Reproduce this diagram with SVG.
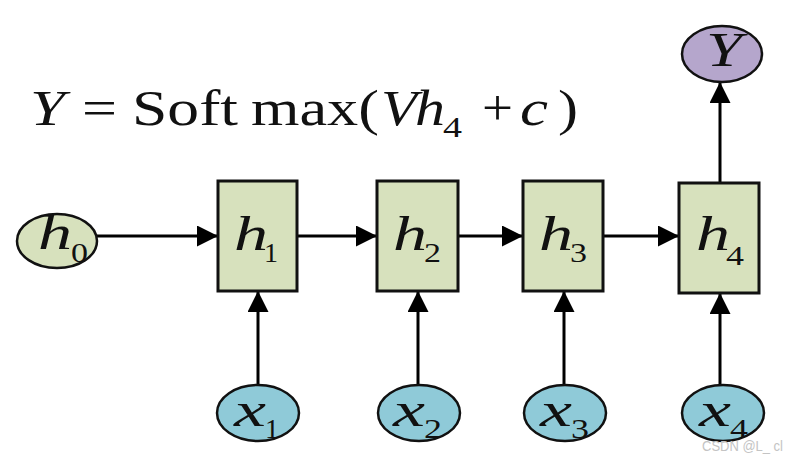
<svg xmlns="http://www.w3.org/2000/svg" width="788" height="458" viewBox="0 0 788 458">
<defs>
<marker id="arr" viewBox="0 0 10 10" refX="10" refY="5" markerWidth="9" markerHeight="7" markerUnits="strokeWidth" orient="auto">
<path d="M0,0 L10,5 L0,10 Z" fill="#000"/>
</marker>
</defs>
<style>
.box{fill:#d7e1bd;stroke:#111;stroke-width:3}
.hnode{fill:#d7e1bd;stroke:#111;stroke-width:2.5}
.xnode{fill:#8fcad8;stroke:#111;stroke-width:2.5}
.ynode{fill:#b5a6cc;stroke:#111;stroke-width:2.5}
.v{font-family:"Liberation Serif",serif;font-style:italic;font-size:48px;fill:#111}
.s{font-family:"Liberation Serif",serif;font-size:28px;fill:#111}
.t{font-family:"Liberation Serif",serif;font-size:50px;fill:#111}
.ti{font-family:"Liberation Serif",serif;font-size:50px;font-style:italic;fill:#111}
.ts{font-family:"Liberation Serif",serif;font-size:30px;fill:#111}
.c{stroke:#000;stroke-width:3;fill:none;marker-end:url(#arr)}
</style>
<rect width="788" height="458" fill="#fff"/>
<g id="title">
<text class="ti" x="30" y="125" textLength="35" lengthAdjust="spacingAndGlyphs">Y</text>
<text class="t" x="82" y="125" textLength="35" lengthAdjust="spacingAndGlyphs">=</text>
<text class="t" x="132" y="125" textLength="106" lengthAdjust="spacingAndGlyphs">Soft</text>
<text class="t" x="251" y="125" textLength="128" lengthAdjust="spacingAndGlyphs">max(</text>
<text class="ti" x="381" y="125" textLength="36" lengthAdjust="spacingAndGlyphs">V</text>
<text class="ti" x="415" y="125" textLength="30" lengthAdjust="spacingAndGlyphs">h</text>
<text class="ts" x="443" y="137" textLength="19" lengthAdjust="spacingAndGlyphs">4</text>
<text class="t" x="482" y="125" textLength="31" lengthAdjust="spacingAndGlyphs">+</text>
<text class="ti" x="520" y="125" textLength="28" lengthAdjust="spacingAndGlyphs">c</text>
<text class="t" x="558" y="125" textLength="20" lengthAdjust="spacingAndGlyphs">)</text>
</g>
<g id="connectors">
<line class="c" x1="97" y1="236" x2="218" y2="236"/>
<line class="c" x1="297" y1="236" x2="377" y2="236"/>
<line class="c" x1="458" y1="236" x2="523" y2="236"/>
<line class="c" x1="603" y1="236" x2="679" y2="236"/>
<line class="c" x1="258" y1="385" x2="258" y2="291"/>
<line class="c" x1="418" y1="385" x2="418" y2="291"/>
<line class="c" x1="564" y1="385" x2="564" y2="291"/>
<line class="c" x1="720" y1="385" x2="720" y2="293"/>
<line class="c" x1="720" y1="183" x2="720" y2="82"/>
</g>
<g id="h0">
<ellipse class="hnode" cx="57" cy="241" rx="40" ry="27"/>
<text class="v" x="38" y="249" textLength="34" lengthAdjust="spacingAndGlyphs">h</text><text class="s" x="71" y="262" textLength="17" lengthAdjust="spacingAndGlyphs">0</text>
</g>
<g id="h1">
<rect class="box" x="218" y="181" width="79" height="110"/>
<text class="v" x="234" y="250" textLength="34" lengthAdjust="spacingAndGlyphs">h</text><text class="s" x="264" y="262" textLength="14" lengthAdjust="spacingAndGlyphs">1</text>
</g>
<g id="h2">
<rect class="box" x="377" y="181" width="81" height="110"/>
<text class="v" x="393" y="250" textLength="34" lengthAdjust="spacingAndGlyphs">h</text><text class="s" x="424" y="262" textLength="17" lengthAdjust="spacingAndGlyphs">2</text>
</g>
<g id="h3">
<rect class="box" x="523" y="181" width="80" height="110"/>
<text class="v" x="539" y="250" textLength="34" lengthAdjust="spacingAndGlyphs">h</text><text class="s" x="570" y="262" textLength="17" lengthAdjust="spacingAndGlyphs">3</text>
</g>
<g id="h4">
<rect class="box" x="679" y="183" width="80" height="110"/>
<text class="v" x="696" y="250" textLength="34" lengthAdjust="spacingAndGlyphs">h</text><text class="s" x="726" y="265" textLength="18" lengthAdjust="spacingAndGlyphs">4</text>
</g>
<g id="Y">
<ellipse class="ynode" cx="722" cy="54" rx="40" ry="28"/>
<text class="v" x="706" y="66" textLength="36" lengthAdjust="spacingAndGlyphs">Y</text>
</g>
<g id="x1">
<ellipse class="xnode" cx="258" cy="413" rx="41" ry="28"/>
<text class="v" x="234" y="426" textLength="32" lengthAdjust="spacingAndGlyphs">x</text><text class="s" x="265" y="438" textLength="14" lengthAdjust="spacingAndGlyphs">1</text>
</g>
<g id="x2">
<ellipse class="xnode" cx="419" cy="413" rx="41" ry="28"/>
<text class="v" x="393" y="426" textLength="32" lengthAdjust="spacingAndGlyphs">x</text><text class="s" x="424" y="438" textLength="18" lengthAdjust="spacingAndGlyphs">2</text>
</g>
<g id="x3">
<ellipse class="xnode" cx="565" cy="413" rx="41" ry="28"/>
<text class="v" x="540" y="426" textLength="32" lengthAdjust="spacingAndGlyphs">x</text><text class="s" x="571" y="438" textLength="18" lengthAdjust="spacingAndGlyphs">3</text>
</g>
<g id="x4">
<ellipse class="xnode" cx="723" cy="413" rx="41" ry="28"/>
<text class="v" x="699" y="426" textLength="32" lengthAdjust="spacingAndGlyphs">x</text><text class="s" x="730" y="438" textLength="18" lengthAdjust="spacingAndGlyphs">4</text>
</g>
<text x="702" y="451" font-family="Liberation Sans, sans-serif" font-size="14" fill="#c4c4c4" textLength="81" lengthAdjust="spacingAndGlyphs">CSDN @L_ cl</text>
</svg>
